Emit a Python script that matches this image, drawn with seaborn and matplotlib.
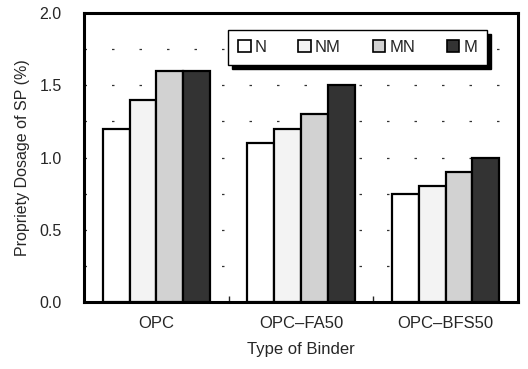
import matplotlib
matplotlib.use("Agg")
import matplotlib.pyplot as plt
import seaborn as sns
import pandas as pd
from matplotlib.patches import Patch

binders = ["OPC", "OPC\u2013FA50", "OPC\u2013BFS50"]
series = ["N", "NM", "MN", "M"]
val_N = [1.2, 1.1, 0.75]
val_NM = [1.4, 1.2, 0.8]
val_MN = [1.6, 1.3, 0.9]
val_M = [1.6, 1.5, 1.0]
colors = ["#ffffff", "#f3f3f3", "#d2d2d2", "#333333"]

rows = []
for s, vals in zip(series, [val_N, val_NM, val_MN, val_M]):
    for b, v in zip(binders, vals):
        rows.append({"Binder": b, "Series": s, "Value": v})
df = pd.DataFrame(rows)

sns.set_style("ticks")
plt.rcParams["font.family"] = ["Liberation Sans", "DejaVu Sans"]

fig = plt.figure(figsize=(5.28, 3.69), dpi=100)
ax = fig.add_axes([84/528, 1-302/369, (518-84)/528, (302-13)/369])

sns.barplot(data=df, x="Binder", y="Value", hue="Series", order=binders,
            hue_order=series, palette=colors, edgecolor="black", linewidth=1.6,
            width=0.74, ax=ax, legend=False, zorder=3)

ax.set_ylim(0, 2.0)
ax.set_xlim(-0.5, 2.5)
ax.set_yticks([0, 0.5, 1.0, 1.5, 2.0])
ax.set_yticklabels([f"{v:.1f}" for v in [0, 0.5, 1.0, 1.5, 2.0]], fontsize=11.5)
for y in [0.25, 0.5, 0.75, 1.0, 1.25, 1.5, 1.75]:
    ax.axhline(y, color="#333333", lw=0.9, ls=(0, (2, 20)), zorder=1)
ax.tick_params(axis="y", which="both", length=0, pad=16)
ax.tick_params(axis="x", length=0, pad=10, labelsize=12)
ax.set_xticks([0, 1, 2])
ax.set_xticklabels(binders)
ax.set_xticks([0.5, 1.5], minor=True)
ax.tick_params(axis="x", which="minor", direction="in", length=4, width=1)
for sp in ax.spines.values():
    sp.set_visible(True)
    sp.set_linewidth(2.2)
    sp.set_color("black")

ax.set_ylabel("Propriety Dosage of SP (%)", fontsize=11.5, labelpad=7)
ax.set_xlabel("Type of Binder", fontsize=12, labelpad=8)

handles = [Patch(facecolor=c, edgecolor="black", linewidth=1.2, label=s) for c, s in zip(colors, series)]
leg = ax.legend(handles=handles, ncol=4, loc="center", bbox_to_anchor=(0.332, 0.813, 0.597, 0.135),
                mode="expand", frameon=True, fancybox=False, edgecolor="black",
                shadow={"color": "black", "alpha": 1, "ox": 3, "oy": -3},
                fontsize=12, handlelength=0.75, handleheight=0.75, handletextpad=0.25,
                borderaxespad=0, borderpad=0.6, columnspacing=1.0)
leg.get_frame().set_linewidth(1.0)
leg.set_zorder(5)

fig.savefig("out.png", dpi=100)
